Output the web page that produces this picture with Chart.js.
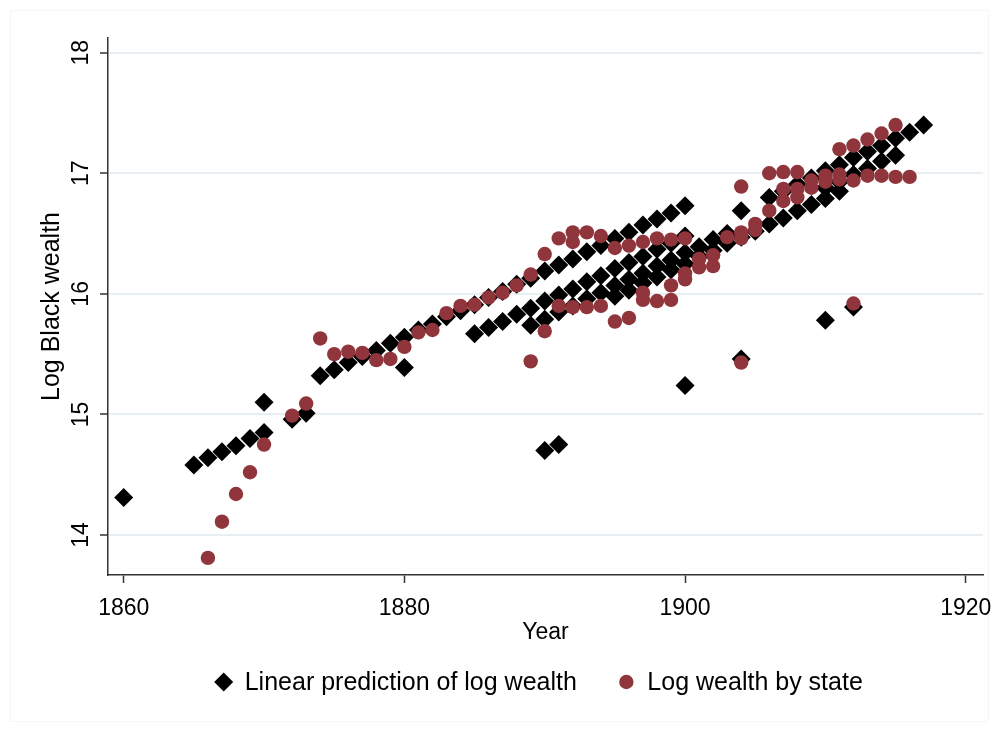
<!DOCTYPE html>
<html>
<head>
<meta charset="utf-8">
<script src="https://cdn.jsdelivr.net/npm/chart.js@4.4.1/dist/chart.umd.min.js"></script>
<style>
  html, body { margin: 0; padding: 0; background: #fff; }
</style>
</head>
<body>
<canvas id="chart" width="999" height="732"></canvas>
<script>
// x axis
const xTicks = [1860, 1880, 1900, 1920];
const yTicks = [14, 15, 16, 17, 18];

// linear prediction (diamonds), grouped by fitted line
const predYears = [
    1860, 1865, 1866, 1867, 1868, 1869, 1870, 1872, 1873, 1880,
    1885, 1886, 1887, 1888, 1889, 1890, 1891, 1892, 1893, 1894, 1895, 1896, 1897, 1898, 1899, 1900,
    1904, 1906, 1907, 1908, 1909, 1910, 1911, 1912, 1913, 1914, 1915, 1916, 1917,
    1870, 1874, 1875, 1876, 1877, 1878, 1879, 1880, 1881, 1882, 1883, 1884, 1885, 1886, 1887,
    1888, 1889, 1890, 1891, 1892, 1893, 1894, 1895, 1896, 1897, 1898, 1899, 1900,
    1889, 1890, 1891, 1892, 1893, 1894, 1895, 1896, 1897, 1898, 1899, 1900, 1901, 1902, 1903,
    1910, 1911, 1912, 1913, 1914, 1915,
    1895, 1896, 1897, 1898, 1899, 1900, 1901, 1902, 1903, 1904, 1905, 1906, 1907, 1908, 1909, 1910, 1911,
    1890, 1891, 1900, 1904, 1910, 1912
];
const predLog = [
    14.31, 14.58, 14.64, 14.69, 14.74, 14.80, 14.85, 14.96, 15.01, 15.39,
    15.67, 15.72, 15.77, 15.83, 15.88, 15.94, 15.99, 16.04, 16.10, 16.15, 16.21, 16.26, 16.31, 16.37, 16.42, 16.48,
    16.69, 16.80, 16.85, 16.91, 16.96, 17.02, 17.07, 17.13, 17.18, 17.23, 17.29, 17.34, 17.40,
    15.10, 15.32, 15.37, 15.43, 15.48, 15.53, 15.59, 15.64, 15.70, 15.75, 15.81, 15.86, 15.91, 15.97, 16.02,
    16.08, 16.13, 16.19, 16.24, 16.29, 16.35, 16.40, 16.46, 16.51, 16.57, 16.62, 16.67, 16.73,
    15.74, 15.79, 15.85, 15.90, 15.96, 16.01, 16.07, 16.12, 16.17, 16.23, 16.28, 16.34, 16.39, 16.45, 16.50,
    16.88, 16.93, 16.99, 17.04, 17.10, 17.15,
    15.98, 16.03, 16.09, 16.14, 16.20, 16.25, 16.31, 16.36, 16.42, 16.47, 16.52, 16.58, 16.63, 16.69, 16.74, 16.79, 16.85,
    14.70, 14.75, 15.24, 15.46, 15.78, 15.89
];

// observed log wealth by state (circles)
const stateYears = [
    1866, 1867, 1868, 1869, 1870, 1872, 1873, 1874, 1875, 1876, 1877, 1878, 1879, 1880,
    1881, 1882, 1883, 1884, 1885, 1886, 1887, 1888, 1889, 1889, 1890, 1890, 1891, 1891,
    1892, 1892, 1892, 1893, 1893, 1894, 1894, 1895, 1895, 1896, 1896, 1897, 1897, 1897,
    1898, 1898, 1899, 1899, 1899, 1900, 1900, 1900, 1901, 1901, 1902, 1902, 1903,
    1904, 1904, 1904, 1904, 1905, 1905, 1906, 1906, 1907, 1907, 1907, 1908, 1908, 1908,
    1909, 1909, 1910, 1910, 1911, 1911, 1911, 1912, 1912, 1912, 1913, 1913, 1914, 1914,
    1915, 1915, 1916
];
const stateLog = [
    13.81, 14.11, 14.34, 14.52, 14.75, 14.99, 15.09, 15.63, 15.50, 15.52, 15.51, 15.45, 15.46, 15.56,
    15.68, 15.70, 15.84, 15.90, 15.91, 15.97, 16.01, 16.07, 16.16, 15.44, 16.33, 15.69, 16.46, 15.90,
    16.51, 16.43, 15.89, 16.51, 15.89, 16.48, 15.90, 16.38, 15.77, 16.40, 15.80, 16.43, 16.01, 15.95,
    16.46, 15.94, 16.45, 16.07, 15.95, 16.46, 16.17, 16.12, 16.29, 16.22, 16.32, 16.23, 16.47,
    16.89, 16.51, 16.46, 15.43, 16.58, 16.53, 17.00, 16.69, 17.01, 16.87, 16.77, 17.01, 16.87, 16.80,
    16.94, 16.88, 16.98, 16.93, 17.20, 16.99, 16.95, 17.23, 16.94, 15.92, 17.28, 16.98, 17.33, 16.98,
    17.40, 16.97, 16.97
];

const FONT = '"Liberation Sans", Arial, sans-serif';
const AXIS_COLOR = '#333333';
const GRID_COLOR = '#e7eff2';
const CRANBERRY = '#90353b';

function toPoints(xs, ys) {
    return xs.map((x, i) => ({ x: x, y: ys[i] }));
}

// Stata-style legend drawn under the plot
const stataLegend = {
    id: 'stataLegend',
    beforeDraw(chart) {
        const ctx = chart.ctx;
        ctx.save();
        ctx.fillStyle = '#fff';
        ctx.fillRect(0, 0, chart.width, chart.height);
        ctx.strokeStyle = '#f6f6f6';
        ctx.lineWidth = 1;
        ctx.strokeRect(10.5, 10.5, chart.width - 21, chart.height - 21);
        ctx.restore();
    },
    afterDraw(chart) {
        const ctx = chart.ctx;
        const sets = chart.data.datasets;
        const box = 17, gap = 12.5, spacing = 41;
        ctx.save();
        ctx.font = '25px ' + FONT;
        ctx.textBaseline = 'middle';
        const widths = sets.map(d => ctx.measureText(d.label).width);
        const total = widths.reduce((a, w) => a + box + gap + w, 0) + spacing * (sets.length - 1);
        let x = 539 - total / 2;
        const y = 682;
        sets.forEach((d, i) => {
            ctx.fillStyle = d.backgroundColor;
            Chart.helpers.drawPoint(ctx, { pointStyle: d.pointStyle, radius: d.legendRadius, rotation: 0, borderWidth: 0 }, x + box / 2, y);
            ctx.fillStyle = '#000';
            ctx.textAlign = 'left';
            ctx.fillText(d.label, x + box + gap, y + 1);
            x += box + gap + widths[i] + spacing;
        });
        ctx.restore();
    }
};

new Chart(document.getElementById('chart'), {
    type: 'scatter',
    data: {
        datasets: [
            {
                label: 'Linear prediction of log wealth',
                data: toPoints(predYears, predLog),
                pointStyle: 'rectRot',
                pointRadius: 9.5,
                pointBorderWidth: 0,
                backgroundColor: '#000000',
                borderColor: '#000000',
                legendRadius: 9.5,
                order: 2
            },
            {
                label: 'Log wealth by state',
                data: toPoints(stateYears, stateLog),
                pointStyle: 'circle',
                pointRadius: 7.2,
                pointBorderWidth: 0,
                backgroundColor: CRANBERRY,
                borderColor: CRANBERRY,
                legendRadius: 7.2,
                order: 1
            }
        ]
    },
    options: {
        responsive: false,
        animation: false,
        devicePixelRatio: 1,
        layout: { padding: { top: 38, right: 16, bottom: 86, left: 0 } },
        plugins: {
            legend: { display: false },
            tooltip: { enabled: false }
        },
        scales: {
            x: {
                type: 'linear',
                min: 1858.88,
                max: 1921.23,
                afterBuildTicks: axis => { axis.ticks = xTicks.map(v => ({ value: v })); },
                afterFit: scale => {
                    scale.height = 71;
                    scale.paddingLeft = 0;
                    scale.paddingRight = 0;
                },
                grid: { drawOnChartArea: false, tickLength: 8, tickColor: AXIS_COLOR, tickWidth: 1.5 },
                border: { color: AXIS_COLOR, width: 1.5 },
                ticks: {
                    color: '#000',
                    font: { family: FONT, size: 23 },
                    padding: 12,
                    maxRotation: 0,
                    callback: v => String(v)
                },
                title: { display: true, text: 'Year', color: '#000', font: { family: FONT, size: 23 }, padding: 0 }
            },
            y: {
                min: 13.668,
                max: 18.122,
                afterBuildTicks: axis => { axis.ticks = yTicks.map(v => ({ value: v })); },
                afterFit: scale => {
                    scale.width = 108;
                    scale.paddingTop = 0;
                    scale.paddingBottom = 0;
                },
                grid: { color: GRID_COLOR, lineWidth: 2, tickLength: 8, tickColor: AXIS_COLOR, tickWidth: 1.5 },
                border: { color: AXIS_COLOR, width: 1.5 },
                ticks: {
                    color: '#000',
                    font: { family: FONT, size: 23 },
                    padding: 6,
                    minRotation: 90,
                    maxRotation: 90,
                    crossAlign: 'center',
                    callback: v => String(v)
                },
                title: { display: true, text: 'Log Black wealth', color: '#000', font: { family: FONT, size: 25 }, padding: { top: 37, bottom: 0 } }
            }
        }
    },
    plugins: [stataLegend]
});
</script>
</body>
</html>
